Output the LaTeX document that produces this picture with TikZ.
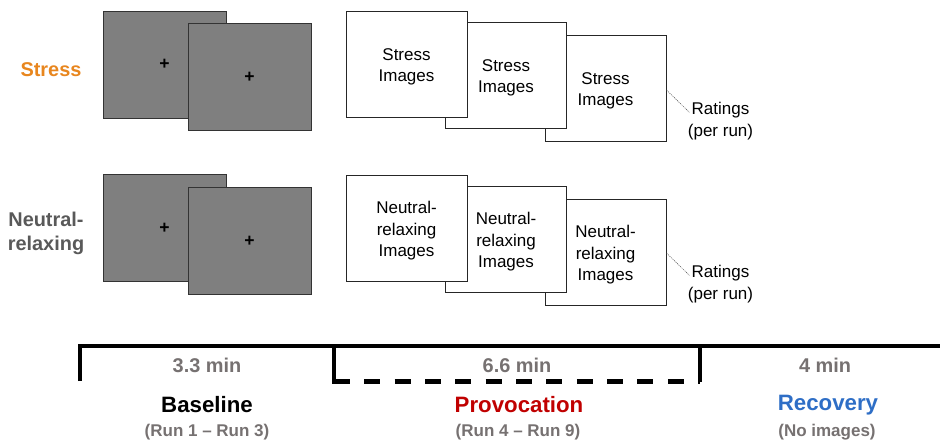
\documentclass[tikz,border=0pt]{standalone}
\usepackage{fontspec}
\setmainfont{Liberation Sans}
\usetikzlibrary{positioning}

\definecolor{stressorange}{HTML}{E8861E}
\definecolor{neutralgray}{HTML}{595959}
\definecolor{fixgray}{HTML}{7F7F7F}
\definecolor{timegray}{HTML}{767171}
\definecolor{provred}{HTML}{C00000}
\definecolor{recblue}{HTML}{2E6EC6}

\newcommand{\boxtext}[1]{\raisebox{0pt}[\dimexpr\height+5pt\relax][\depth]{\begin{tabular}{@{}c@{}}#1\end{tabular}}}

\begin{document}
\begin{tikzpicture}[x=0.3mm, y=-0.3mm,
    condlabel/.style={font=\fontsize{17}{20.5}\selectfont\bfseries, align=center},
    fixbox/.style={draw=black!80, line width=0.7pt, fill=fixgray, minimum width=36.9mm, minimum height=32.1mm, inner sep=0pt, font=\fontsize{15}{15}\selectfont\bfseries},
    imgbox/.style={draw=black!85, line width=0.8pt, fill=white, minimum width=36.3mm, minimum height=31.8mm, inner sep=0pt, font=\fontsize{14.5}{18.3}\selectfont},
    ratings/.style={align=center, inner sep=0pt, font=\fontsize{14.5}{18.8}\selectfont},
    ratingline/.style={draw=black!70, line width=0.4pt, dash pattern=on 1pt off 0.8pt},
    timeline/.style={line width=3.5pt},
    duration/.style={text=timegray, font=\fontsize{17}{17}\selectfont\bfseries},
    phase/.style={font=\fontsize{19}{19}\selectfont\bfseries},
    runs/.style={text=timegray, font=\fontsize{14.5}{14.5}\selectfont\bfseries}]
    \useasboundingbox (0,0) rectangle (940,445);

    % Conditions
    \node[condlabel, text=stressorange] (stresslbl) at (51,70) {Stress};
    \node[condlabel, text=neutralgray] (neutrallbl) at (46,233) {Neutral-\\relaxing};

    % Baseline fixation screens
    \node[fixbox] (fixS1) at (164.5,64.5) {+};
    \node[fixbox] (fixS2) at (249.5,77) {+};
    \node[fixbox] (fixN1) at (164.5,228) {+};
    \node[fixbox] (fixN2) at (249.5,241) {+};

    % Provocation image blocks (stress)
    \node[imgbox] (imgS3) at (605.5,88) {\boxtext{Stress\\Images}};
    \node[imgbox] (imgS2) at (506,75) {\boxtext{Stress\\Images}};
    \node[imgbox] (imgS1) at (406.5,64) {\boxtext{Stress\\Images}};

    % Provocation image blocks (neutral-relaxing)
    \node[imgbox] (imgN3) at (605.5,252) {\boxtext{Neutral-\\relaxing\\Images}};
    \node[imgbox] (imgN2) at (506,239) {\boxtext{Neutral-\\relaxing\\Images}};
    \node[imgbox] (imgN1) at (406.5,228) {\boxtext{Neutral-\\relaxing\\Images}};

    % Ratings
    \node[ratings] (rateS) at (720.5,121) {Ratings\\(per run)};
    \node[ratings] (rateN) at (720.5,284) {Ratings\\(per run)};
    \draw[ratingline] ([yshift=-0.6mm]imgS3.east) -- ([xshift=0.5mm, yshift=2.6mm]rateS.west);
    \draw[ratingline] ([yshift=-0.3mm]imgN3.east) -- ([xshift=0.5mm, yshift=2.6mm]rateN.west);

    % Timeline
    \coordinate (baseL) at (80,381);
    \coordinate (baseT) at (80,346);
    \coordinate (endT) at (940,346);
    \coordinate (provT) at (334,346);
    \coordinate (provB) at (334,381.5);
    \coordinate (recT) at (700,346);
    \coordinate (recB) at (700,382);
    \draw[timeline] (baseL) -- (baseT) -- (endT);
    \draw[timeline, line cap=rect] (provT) -- (provB);
    \draw[timeline] (recT) -- (recB);
    \draw[timeline, dash pattern=on 13.6pt off 12.3pt] (provB) -- (recB |- provB);

    % Durations
    \node[duration] (durBase) at (207,365) {3.3 min};
    \node[duration] (durProv) at (517,365) {6.6 min};
    \node[duration] (durRec) at (825,365) {4 min};

    % Phases
    \node[phase, text=black] (baseline) at (207,405) {Baseline};
    \node[phase, text=provred] (provocation) at (519,405) {Provocation};
    \node[phase, text=recblue] (recovery) at (828,405) {Recovery};

    % Runs
    \node[runs] (runBase) at (207,432) {(Run 1 – Run 3)};
    \node[runs] (runProv) at (518,432) {(Run 4 – Run 9)};
    \node[runs] (runRec) at (827,432) {(No images)};
\end{tikzpicture}
\end{document}
